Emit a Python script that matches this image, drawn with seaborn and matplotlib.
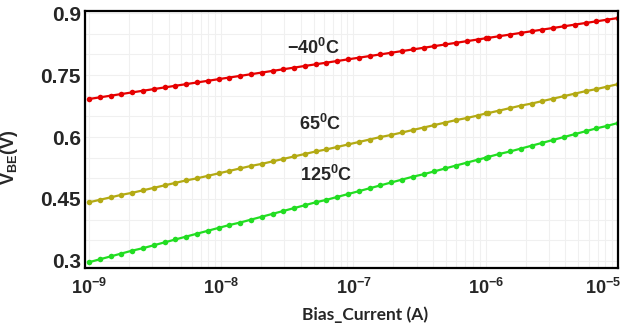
import numpy as np
import pandas as pd
import matplotlib
matplotlib.use("Agg")
import matplotlib.pyplot as plt
import matplotlib.ticker as mticker
import matplotlib.transforms as mtransforms
import seaborn as sns

# ---- data ----
bias_current = [
    1.000e-9, 1.207e-9, 1.456e-9, 1.757e-9, 2.121e-9, 2.560e-9, 3.089e-9, 3.727e-9, 4.498e-9, 5.429e-9,
    6.551e-9, 7.906e-9, 9.541e-9, 1.151e-8, 1.390e-8, 1.677e-8, 2.024e-8, 2.442e-8, 2.947e-8, 3.556e-8,
    4.292e-8, 5.179e-8, 6.250e-8, 7.543e-8, 9.103e-8, 1.099e-7, 1.326e-7, 1.600e-7, 1.931e-7, 2.330e-7,
    2.812e-7, 3.393e-7, 4.095e-7, 4.942e-7, 5.964e-7, 7.196e-7, 8.685e-7, 1.000e-6, 1.048e-6, 1.265e-6,
    1.527e-6, 1.842e-6, 2.223e-6, 2.683e-6, 3.238e-6, 3.907e-6, 4.715e-6, 5.690e-6, 6.866e-6, 8.286e-6,
    1.000e-5,
]
vbe_m40 = [
    0.692, 0.696, 0.700, 0.704, 0.708, 0.712, 0.716, 0.720, 0.724, 0.728,
    0.732, 0.736, 0.740, 0.744, 0.748, 0.752, 0.756, 0.760, 0.764, 0.768,
    0.772, 0.776, 0.780, 0.784, 0.788, 0.792, 0.796, 0.800, 0.804, 0.808,
    0.812, 0.816, 0.820, 0.824, 0.828, 0.832, 0.836, 0.839, 0.840, 0.844,
    0.848, 0.852, 0.856, 0.860, 0.864, 0.868, 0.872, 0.876, 0.880, 0.884,
    0.888,
]
vbe_65 = [
    0.442, 0.448, 0.454, 0.460, 0.465, 0.471, 0.477, 0.483, 0.489, 0.495,
    0.500, 0.506, 0.512, 0.518, 0.524, 0.530, 0.535, 0.541, 0.547, 0.553,
    0.559, 0.565, 0.570, 0.576, 0.582, 0.588, 0.594, 0.600, 0.605, 0.611,
    0.617, 0.623, 0.629, 0.635, 0.641, 0.646, 0.652, 0.657, 0.658, 0.664,
    0.670, 0.676, 0.681, 0.687, 0.693, 0.699, 0.705, 0.711, 0.716, 0.722,
    0.728,
]
vbe_125 = [
    0.297, 0.304, 0.311, 0.318, 0.325, 0.331, 0.338, 0.345, 0.352, 0.359,
    0.366, 0.373, 0.380, 0.387, 0.393, 0.400, 0.407, 0.414, 0.421, 0.428,
    0.435, 0.442, 0.448, 0.455, 0.462, 0.469, 0.476, 0.483, 0.490, 0.497,
    0.504, 0.510, 0.517, 0.524, 0.531, 0.538, 0.545, 0.550, 0.552, 0.559,
    0.565, 0.572, 0.579, 0.586, 0.593, 0.600, 0.607, 0.614, 0.621, 0.627,
    0.634,
]
series_names = ["-40C", "65C", "125C"]
series_colors = ["#e60000", "#b3aa14", "#22dd22"]
x_tick_values = [1e-9, 1e-8, 1e-7, 1e-6, 1e-5]
x_tick_labels = [r"$\mathbf{10^{-9}}$", r"$\mathbf{10^{-8}}$", r"$\mathbf{10^{-7}}$",
                 r"$\mathbf{10^{-6}}$", r"$\mathbf{10^{-5}}$"]
y_tick_values = [0.3, 0.45, 0.6, 0.75, 0.9]
y_tick_labels = ["0.3", "0.45", "0.6", "0.75", "0.9"]
annotations = [r"$\mathbf{-40^{0}C}$", r"$\mathbf{65^{0}C}$", r"$\mathbf{125^{0}C}$"]
annotation_x = [5.0e-8, 5.6e-8, 6.2e-8]
annotation_y = [0.815, 0.631, 0.508]

df = pd.concat([
    pd.DataFrame({"I": bias_current, "V": v, "T": name})
    for v, name in zip([vbe_m40, vbe_65, vbe_125], series_names)
])

sns.set_style("white")
plt.rcParams["mathtext.fontset"] = "custom"
plt.rcParams["mathtext.bf"] = "Liberation Sans:bold"
plt.rcParams["mathtext.rm"] = "Liberation Sans"
plt.rcParams["font.family"] = ["Liberation Sans", "DejaVu Sans"]

fig = plt.figure(figsize=(6.24, 3.29), dpi=100)
ax = fig.add_axes([85 / 624, 1 - 268 / 329, (618 - 85) / 624, (268 - 11) / 329])
ax.set_xscale("log")

sns.lineplot(data=df, x="I", y="V", hue="T", palette=series_colors, hue_order=series_names,
             marker="o", markersize=4, markeredgewidth=0, linewidth=1.6,
             legend=False, ax=ax, sort=True, estimator=None)

ax.set_xlim(10 ** -9.03, 1e-5)
ax.set_ylim(0.283, 0.905)

ax.set_xticks(x_tick_values)
ax.set_xticklabels(x_tick_labels, fontsize=13)
ax.xaxis.set_minor_locator(mticker.LogLocator(base=10, subs=np.arange(2, 10)))
ax.xaxis.set_minor_formatter(mticker.NullFormatter())
ax.set_yticks(y_tick_values)
ax.set_yticklabels(y_tick_labels, fontsize=15, fontweight="bold")
ax.yaxis.set_minor_locator(mticker.MultipleLocator(0.05))

ax.tick_params(axis="both", which="major", direction="out", length=3, width=1, color="#555555")
ax.tick_params(axis="both", which="minor", direction="out", length=2.5, width=0.8, color="#888888")
ax.tick_params(axis="x", which="major", pad=4)
ax.tick_params(axis="y", which="major", pad=0)

# last x tick label sits against the right edge
last = ax.get_xticklabels()[-1]
last.set_horizontalalignment("right")
last.set_transform(last.get_transform() + mtransforms.ScaledTranslation(2 / 72, 0, fig.dpi_scale_trans))

ax.grid(True, which="both", color="#f0f0f0", linewidth=0.8)
ax.set_axisbelow(True)
for s in ax.spines.values():
    s.set_visible(True)
    s.set_color("black")
    s.set_linewidth(1.6)

ax.set_xlabel("Bias_Current (A)", fontsize=12.5, fontweight="bold", family=["Lato", "DejaVu Sans"])
ax.xaxis.set_label_coords(0.525, -0.148)
ax.set_ylabel(r"$\mathbf{V_{BE}(V)}$", fontsize=13)
ax.yaxis.set_label_coords(-0.122, 0.43)

for xx, yy, txt in zip(annotation_x, annotation_y, annotations):
    ax.text(xx, yy, txt, fontsize=13, ha="center", va="center")

fig.savefig("out.png", dpi=100)
